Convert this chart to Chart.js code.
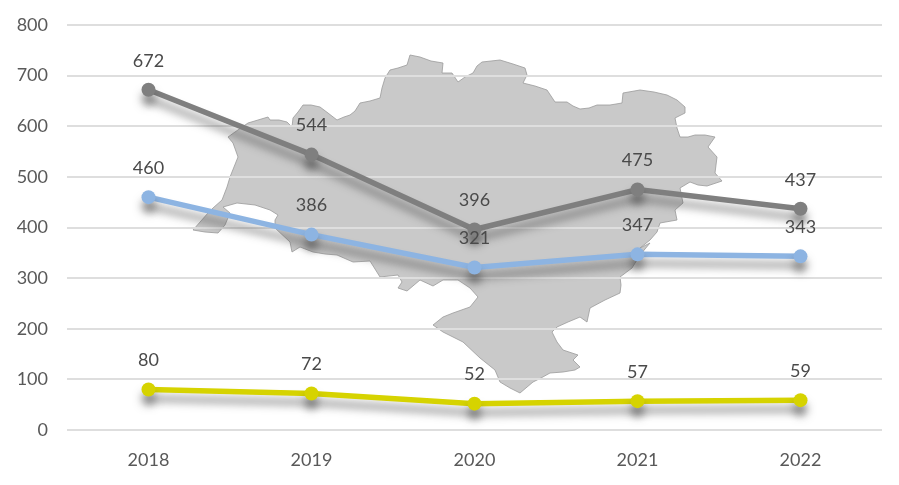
<!DOCTYPE html>
<html>
<head>
<meta charset="utf-8">
<style>
  html, body { margin: 0; padding: 0; background: #fff; }
  canvas { display: block; }
</style>
<script src="https://cdn.jsdelivr.net/npm/chart.js@4"></script>
</head>
<body>
<canvas id="chart" width="899" height="485"></canvas>
<script>
"use strict";

const years = ["2018", "2019", "2020", "2021", "2022"];
const greySeries = [672, 544, 396, 475, 437];
const blueSeries = [460, 386, 321, 347, 343];
const yellowSeries = [80, 72, 52, 57, 59];

// backdrop only (canvas pixels)
const mapPath = "M228 137 L235 132 L248 123 L258 120 L268 117 L270 120 L279 120 L287 122 L292 127 L293 118 L298 112 L303 105 " +
  "L311 105 L320 107 L328 113 L337 120 L344 117 L350 115 L355 111 L360 103 L370 101 L380 98 L382 88 L385 78 L390 70 L398 68 L407 65 " +
  "L410 55 L420 57 L431 61 L443 63 L442 73 L452 73 L458 82 L465 77 L473 73 L477 66 L482 62 L500 60 L513 64 L525 68 L527 75 L523 83 " +
  "L535 86 L547 90 L551 96 L555 102 L567 102 L573 106 L580 109 L589 108 L597 105 L610 105 L622 103 L623 93 L640 90 L654 92 L667 95 L677 100 L685 107 " +
  "L685 113 L675 118 L677 128 L680 137 L688 137 L695 135 L705 135 L715 137 L708 147 L717 157 L716 165 L715 173 L722 181 L707 186 L698 185 L690 182 L680 188 " +
  "L683 203 L675 210 L677 220 L660 223 L657 232 L650 240 L640 248 L650 243 L640 255 L632 268 L620 277 L621 285 L620 293 L605 300 L590 308 L587 322 L580 317 " +
  "L568 322 L557 327 L552 332 L557 342 L563 350 L578 355 L573 360 L580 367 L575 370 L563 372 L550 373 L541 378 L533 382 L520 393 L510 388 L500 382 L495 370 " +
  "L480 358 L463 342 L453 337 L443 332 L433 325 L443 317 L453 313 L470 307 L478 297 L470 288 L458 280 L443 280 L433 286 L420 280 L407 291 L398 288 L402 282 " +
  "L398 275 L380 277 L370 261 L353 262 L337 255 L325 254 L313 252 L300 247 L292 252 L290 242 L275 228 L275 220 L278 215 L270 210 L255 205 L237 203 L223 207 " +
  "L230 213 L225 225 L218 233 L205 232 L193 230 L208 213 L213 208 L222 200 L227 187 L230 177 L234 167 L238 157 L233 143 Z";

const mapBackdrop = {
  id: "mapBackdrop",
  beforeDraw(chart) {
    const ctx = chart.ctx;
    ctx.save();
    const p = new Path2D(mapPath);
    ctx.fillStyle = "#c9c9c9";
    ctx.fill(p);
    ctx.strokeStyle = "#9a9a9a";
    ctx.lineWidth = 0.8;
    ctx.stroke(p);
    ctx.restore();
  }
};

// soft drop shadow under the lines
const lineShadow = {
  id: "lineShadow",
  beforeDatasetDraw(chart) {
    const ctx = chart.ctx;
    ctx.save();
    ctx.shadowColor = "rgba(60,60,60,0.55)";
    ctx.shadowBlur = 9;
    ctx.shadowOffsetY = 9;
  },
  afterDatasetDraw(chart) {
    chart.ctx.restore();
  }
};

const valueLabels = {
  id: "valueLabels",
  afterDatasetsDraw(chart) {
    const ctx = chart.ctx;
    ctx.save();
    ctx.font = "18px Lato";
    ctx.fillStyle = "#4a4a4a";
    ctx.textAlign = "center";
    ctx.textBaseline = "middle";
    chart.data.datasets.forEach(function(ds, i) {
      chart.getDatasetMeta(i).data.forEach(function(pt, j) {
        ctx.fillText(ds.data[j], pt.x, pt.y - 29);
      });
    });
    ctx.restore();
  }
};

function series(values, color) {
  return {
    data: values,
    borderColor: color,
    backgroundColor: color,
    borderWidth: 5.5,
    pointRadius: 7,
    pointHoverRadius: 7,
    pointBorderWidth: 0,
    tension: 0
  };
}

new Chart(document.getElementById("chart"), {
  type: "line",
  data: {
    labels: years,
    datasets: [
      series(greySeries, "#7f7f7f"),
      series(blueSeries, "#8db4e2"),
      series(yellowSeries, "#d6d300")
    ]
  },
  plugins: [mapBackdrop, lineShadow, valueLabels],
  options: {
    responsive: false,
    animation: false,
    layout: { padding: { top: 25, right: 17, left: 0, bottom: 0 } },
    plugins: { legend: { display: false }, tooltip: { enabled: false } },
    scales: {
      x: {
        offset: true,
        grid: { display: false },
        border: { display: false },
        ticks: { color: "#595959", font: { family: "Lato", size: 18 }, padding: 11, maxRotation: 0 },
        afterFit(scale) { scale.height = 55; }
      },
      y: {
        min: 0,
        max: 800,
        grid: { color: "#dedede", lineWidth: 2, drawTicks: false },
        border: { display: false },
        ticks: { stepSize: 100, color: "#595959", font: { family: "Lato", size: 18 }, padding: 19 },
        afterFit(scale) {
          scale.width = 67;
          scale.paddingTop = 0;
        }
      }
    }
  }
});
</script>
</body>
</html>
